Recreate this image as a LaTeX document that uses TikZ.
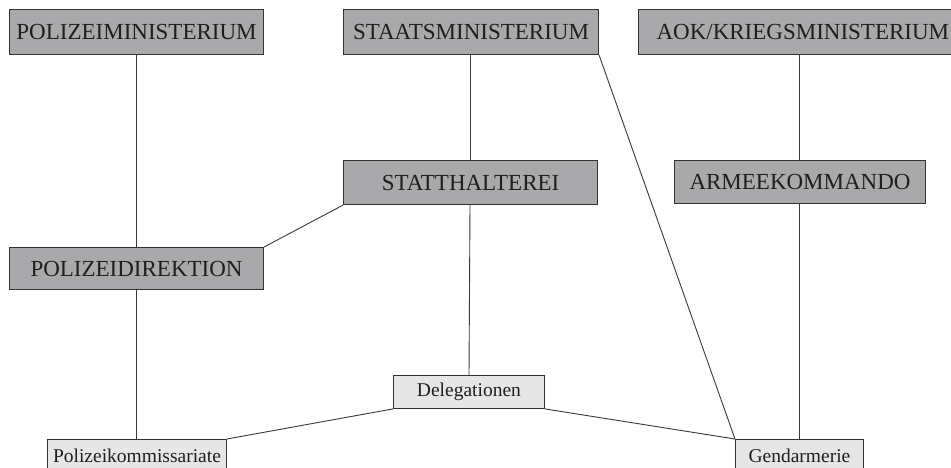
\documentclass[tikz,border=0pt]{standalone}
\usepackage{fontspec}
\setmainfont{Liberation Serif}
\definecolor{darkfill}{HTML}{A9A9AB}
\definecolor{lightfill}{HTML}{E6E6E6}
\definecolor{edge}{HTML}{333333}
\definecolor{conn}{HTML}{3A3A3A}
\tikzset{
  bigbox/.style={draw=edge, fill=darkfill, line width=1.1pt, inner sep=0pt, anchor=north west, font=\fontsize{23}{27}\selectfont, text=black!88},
  smallbox/.style={draw=edge, fill=lightfill, line width=0.9pt, inner sep=0pt, anchor=north west, font=\fontsize{19.5}{23}\selectfont, text=black!88},
  link/.style={draw=conn, line width=0.9pt}
}
\begin{document}
\begin{tikzpicture}[x=1pt, y=-1pt]
\useasboundingbox (0,0) rectangle (951,467);
\clip (0,0) rectangle (951,467);
\fill[white] (0,0) rectangle (951,467);
% top row
\node[bigbox, minimum width=254pt, minimum height=45pt] (pm) at (9,9) {POLIZEIMINISTERIUM};
\node[bigbox, minimum width=255pt, minimum height=45pt] (sm) at (343,9) {STAATSMINISTERIUM};
\node[bigbox, minimum width=322pt, minimum height=45pt, text width=312pt, align=left] (aok) at (638,9) {\hspace*{13pt}AOK/KRIEGSMINISTERIUM};
% middle row
\node[bigbox, minimum width=254pt, minimum height=44pt] (st) at (343,160) {STATTHALTEREI};
\node[bigbox, minimum width=251pt, minimum height=43pt] (ak) at (674,160) {ARMEEKOMMANDO};
\node[bigbox, minimum width=254pt, minimum height=42pt] (pd) at (9,247) {POLIZEIDIREKTION};
% lower row
\node[smallbox, minimum width=151pt, minimum height=33pt] (dg) at (393,375) {Delegationen};
\node[smallbox, minimum width=179pt, minimum height=32pt] (pk) at (47,439) {Polizeikommissariate};
\node[smallbox, minimum width=128pt, minimum height=33pt] (gd) at (735,439) {Gendarmerie};
% coordinates on box edges
\coordinate (pmb) at (pm.south -| 136,0);
\coordinate (pdt) at (pd.north -| 136,0);
\coordinate (pdb) at (pd.south -| 136,0);
\coordinate (pkt) at (pk.north -| 136,0);
\coordinate (smb) at (sm.south -| 470,0);
\coordinate (stt) at (st.north -| 470,0);
\coordinate (stb) at (st.south -| 470,0);
\coordinate (dgt) at (dg.north -| 469,0);
\coordinate (aokb) at (aok.south -| 799,0);
\coordinate (akt) at (ak.north -| 799,0);
\coordinate (akb) at (ak.south -| 799,0);
\coordinate (gdt) at (gd.north -| 799,0);
% connectors
\draw[link] (pmb) -- (pdt);
\draw[link] (pdb) -- (pkt);
\draw[link] (smb) -- (stt);
\draw[link] (stb) -- (dgt);
\draw[link] (st.south west) -- (pd.north east);
\draw[link] (sm.south east) -- (gd.north west);
\draw[link] (aokb) -- (akt);
\draw[link] (akb) -- (gdt);
\draw[link] (dg.south west) -- (pk.north east);
\draw[link] (dg.south east) -- (gd.north west);
\end{tikzpicture}
\end{document}
